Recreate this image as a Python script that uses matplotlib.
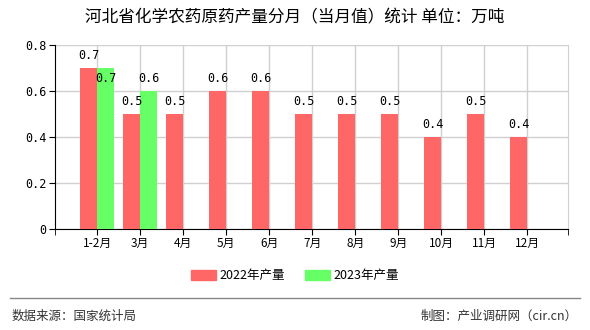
import numpy as np
import matplotlib.pyplot as plt
from matplotlib.patches import Patch
from matplotlib.lines import Line2D

plt.rcParams['font.family'] = ['Noto Sans CJK SC', 'DejaVu Sans']

months = ['1-2月', '3月', '4月', '5月', '6月', '7月', '8月', '9月', '10月', '11月', '12月']
prod_2022 = [0.7, 0.5, 0.5, 0.6, 0.6, 0.5, 0.5, 0.5, 0.4, 0.5, 0.4]
prod_2023 = [0.7, 0.6]
yticks = [0, 0.2, 0.4, 0.6, 0.8]
ytick_labels = ['0', '0.2', '0.4', '0.6', '0.8']

red = '#ff6666'
green = '#66ff66'

fig = plt.figure(figsize=(5.9, 3.3), dpi=100)
ax = fig.add_axes([55/590, 1-229/330, (568-55)/590, (229-45)/330])

x = np.arange(len(months))
w = 0.4
ax.bar(x - w/2, prod_2022, width=w, color=red, zorder=3)
x23 = np.arange(len(prod_2023))
ax.bar(x23 + w/2, prod_2023, width=w, color=green, zorder=3)

lab_font = dict(family='DejaVu Sans Mono', fontsize=8.5, ha='center', zorder=4)
for xi, v in zip(x, prod_2022):
    ax.annotate(f'{v:.1f}', (xi - w/2, v), xytext=(0, 4), textcoords='offset points',
                va='bottom', **lab_font)
for i, (xi, v) in enumerate(zip(x23, prod_2023)):
    # first green label sits inside the bar in the reference
    off = -3 if i == 0 else 4
    va = 'top' if i == 0 else 'bottom'
    ax.annotate(f'{v:.1f}', (xi + w/2, v), xytext=(0, off), textcoords='offset points',
                va=va, **lab_font)

ax.set_xlim(-0.98, 10.95)
ax.set_ylim(0, 0.8)
ax.set_yticks(yticks)
ax.set_yticklabels(ytick_labels, family='DejaVu Sans Mono', fontsize=8.5)
ax.set_xticks(x)
ax.set_xticklabels(months, fontsize=8.5)
ax.set_xticks([-0.98, 10.95], minor=True)
ax.tick_params(axis='x', which='both', length=4, direction='out', color='black', pad=2)
ax.tick_params(axis='y', length=4, direction='out', color='black', pad=2)

ax.grid(True, color='#d0d0d0', linewidth=1, zorder=0)
ax.set_axisbelow(True)
ax.spines['top'].set_visible(False)
ax.spines['right'].set_color('#d0d0d0')
ax.spines['left'].set_color('black')
ax.spines['bottom'].set_color('black')

fig.text(0.5, 1-18/330, '河北省化学农药原药产量分月（当月值）统计 单位：万吨',
         ha='center', va='center', fontsize=12)

handles = [Patch(color=red, label='2022年产量'), Patch(color=green, label='2023年产量')]
fig.legend(handles=handles, loc='center', bbox_to_anchor=(0.5, 1-276/330), ncol=2,
           frameon=False, fontsize=9, handlelength=2, handleheight=0.8,
           columnspacing=1.6, handletextpad=0.3)

fig.add_artist(Line2D([10/590, 580/590], [1-298/330, 1-298/330], color='#888888', linewidth=1))
fig.text(12/590, 1-316/330, '数据来源：国家统计局', ha='left', va='center', fontsize=9, color='#333333')
fig.text(578/590, 1-316/330, '制图：产业调研网（cir.cn）', ha='right', va='center', fontsize=9, color='#333333')

fig.savefig('out.png', dpi=100)
